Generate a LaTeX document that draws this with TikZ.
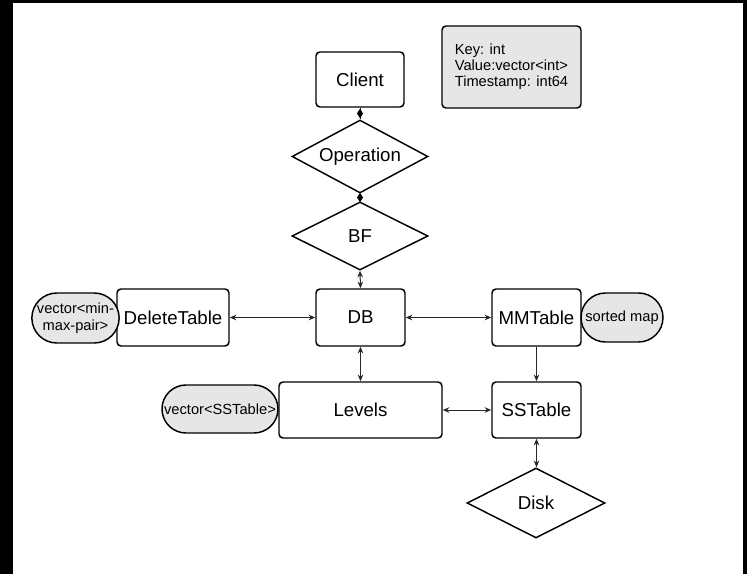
\documentclass[tikz,border=0pt]{standalone}
\usepackage{fontspec}
\setmainfont{Liberation Sans}
\usetikzlibrary{shapes.geometric,shapes.misc,arrows.meta,decorations.markings}
\definecolor{shade}{RGB}{230,230,230}
\definecolor{edge}{RGB}{40,40,40}
\tikzset{
  box/.style={draw=black, line width=1.1pt, rounded corners=3pt, fill=white, inner sep=0pt,
    font=\fontsize{14}{16}\selectfont},
  dia/.style={draw=black, line width=1.1pt, diamond, aspect=1.9, inner sep=0pt, fill=white,
    font=\fontsize{14}{16}\selectfont},
  blob/.style={draw=black, line width=1.1pt, rounded rectangle, fill=shade, inner sep=0pt,
    font=\fontsize{11}{12.5}\selectfont, align=center},
  conn/.style={draw=edge, line width=0.75pt},
  both/.style={conn, {Stealth[length=5pt,width=4.2pt]}-{Stealth[length=5pt,width=4.2pt]}},
  one/.style={conn, -{Stealth[length=5pt,width=4.2pt]}},
  dmark/.style={conn, postaction={decorate}, decoration={markings,
    mark=at position 0.5 with {\fill[black] (-3.5pt,0) -- (0,2.3pt) -- (3.5pt,0) -- (0,-2.3pt) -- cycle;}}}
}
\begin{document}
\begin{tikzpicture}[x=0.75pt,y=-0.75pt]
\useasboundingbox (0,0) rectangle (747,574);
\fill[white] (0,0) rectangle (747,574);
\fill[black] (0,0) rectangle (13,574);
\fill[black] (0,0) rectangle (747,3);
\fill[black] (743,0) rectangle (747,574);

\node[box, minimum width=66pt, minimum height=41.25pt] (client) at (360,79.5) {Client};
\node[dia, minimum width=102pt, minimum height=54.75pt] (op) at (360,156.5) {Operation};
\node[dia, minimum width=102pt, minimum height=51pt] (bf) at (360,236) {BF};
\node[box, minimum width=66.75pt, minimum height=42.75pt] (db) at (360.5,317.5) {DB};
\node[box, minimum width=84pt, minimum height=42.75pt] (del) at (173,317.5) {DeleteTable};
\node[box, minimum width=66.75pt, minimum height=42.75pt] (mm) at (536.5,317.5) {MMTable};
\node[box, minimum width=122.25pt, minimum height=42pt] (lv) at (360.5,410) {Levels};
\node[box, minimum width=66.75pt, minimum height=42pt] (ss) at (536.5,410) {SSTable};
\node[dia, minimum width=103.5pt, minimum height=52.5pt] (disk) at (536,503) {Disk};

\node[box, fill=shade, minimum width=104.25pt, minimum height=61.5pt, align=left,
  font=\fontsize{11}{12}\selectfont] (key) at (511.5,67)
  {Key: int\\Value:vector<int>\\Timestamp: int64};

\node[blob, minimum width=62.25pt, minimum height=37.5pt] (vmm) at (75.5,318) {vector<min-\\max-pair>};
\node[blob, minimum width=61.5pt, minimum height=36.75pt] (smap) at (622,317.5) {sorted map};
\node[blob, minimum width=87pt, minimum height=36pt] (vss) at (220,409) {vector<SSTable>};

\draw[dmark] (client.south) -- (op.north);
\draw[dmark] (op.south) -- (bf.north);
\draw[both] (bf.south) -- (db.north);
\draw[both] (del.east) -- (db.west);
\draw[both] (db.east) -- (mm.west);
\draw[both] (db.south) -- (db.south |- lv.north);
\draw[one] (mm.south) -- (ss.north);
\draw[both] (lv.east) -- (ss.west);
\draw[both] (ss.south) -- (ss.south |- disk.north);
\end{tikzpicture}
\end{document}
